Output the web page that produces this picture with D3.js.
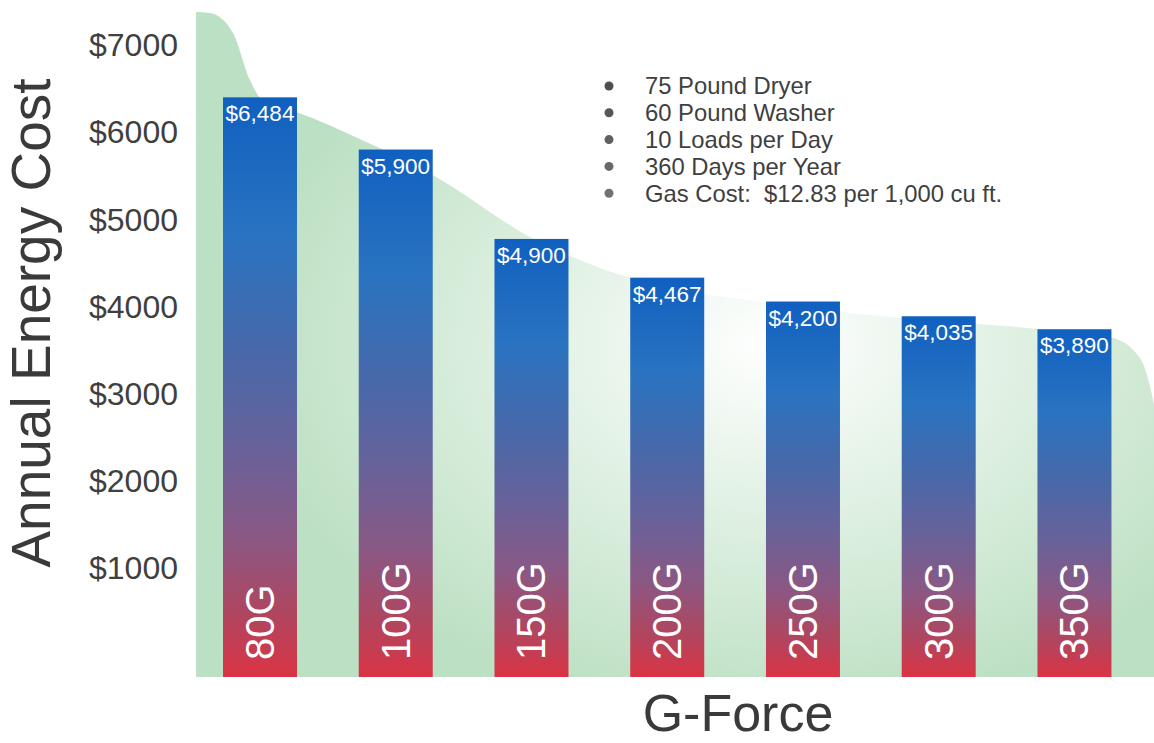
<!DOCTYPE html>
<html>
<head>
<meta charset="utf-8">
<script src="https://cdn.jsdelivr.net/npm/d3@7"></script>
<style>
  html, body { margin: 0; padding: 0; background: #fff; }
  svg { display: block; font-family: "Liberation Sans", Arial, sans-serif; }
</style>
</head>
<body>
<svg id="chart" width="1154" height="743"></svg>
<script>
// ---- data ----
const categories = ["80G", "100G", "150G", "200G", "250G", "300G", "350G"];
const costs = [6484, 5900, 4900, 4467, 4200, 4035, 3890];
const yTicks = [1000, 2000, 3000, 4000, 5000, 6000, 7000];
const notes = ["75 Pound Dryer", "60 Pound Washer", "10 Loads per Day", "360 Days per Year", "Gas Cost:  $12.83 per 1,000 cu ft."];
// decorative backdrop silhouette: position in category-index units, value in dollars
const backdropIndex = [-0.471, -0.368, -0.199, -0.074, 0.015, 0.125, 0.265, 0.751, 1.297, 1.989, 2.704, 3.742, 4.715, 5.731, 6.262, 6.483, 6.571, 6.586];
const backdropValue = [7438, 7427, 7204, 6678, 6454, 6387, 6320, 6007, 5593, 4922, 4474, 4183, 4016, 3893, 3803, 3568, 3154, 3043];

const svg = d3.select("#chart");
const defs = svg.append("defs");

// scales
const x = d3.scaleBand().domain(categories).range([195.85, 1138.6]).paddingInner(0.4549).paddingOuter(0.2);
const y = d3.scaleLinear().domain([0, 7000]).range([677, 51.2]);
const yAxisScale = d3.scaleLinear().domain([0, 7000]).range([655.6, 45.5]);
const c0 = x(categories[0]) + x.bandwidth() / 2;
const c6 = x(categories[6]) + x.bandwidth() / 2;
const xi = d3.scaleLinear().domain([0, 6]).range([c0, c6]);

// gradients
const rg = defs.append("radialGradient").attr("id", "bgGrad")
  .attr("cx", 0.6).attr("cy", 0.5).attr("r", 0.56);
rg.append("stop").attr("offset", "0%").attr("stop-color", "#ffffff");
rg.append("stop").attr("offset", "30%").attr("stop-color", "#eaf5ec");
rg.append("stop").attr("offset", "100%").attr("stop-color", "#bce0c3");

const bg = defs.append("linearGradient").attr("id", "barGrad")
  .attr("x1", 0).attr("y1", 0).attr("x2", 0).attr("y2", 1);
[["0%", "#1060c0"], ["24%", "#2a73c1"], ["42%", "#4569ab"], ["60%", "#67629a"], ["76%", "#8a5884"], ["89%", "#af4660"], ["100%", "#da3444"]]
  .forEach(([o, c]) => bg.append("stop").attr("offset", o).attr("stop-color", c));

const dg = defs.append("linearGradient").attr("id", "dotGrad")
  .attr("gradientUnits", "userSpaceOnUse").attr("x1", 0).attr("y1", 80).attr("x2", 0).attr("y2", 200);
dg.append("stop").attr("offset", "0%").attr("stop-color", "#4c4c4c");
dg.append("stop").attr("offset", "100%").attr("stop-color", "#747474");

// backdrop area
const backdrop = backdropIndex.map((d, i) => ({ i: d, v: backdropValue[i] }));
const area = d3.area()
  .x(d => xi(d.i))
  .y0(y(0))
  .y1(d => y(d.v))
  .curve(d3.curveMonotoneX);
svg.append("path").datum(backdrop).attr("d", area).attr("fill", "url(#bgGrad)");

// y axis labels
const yAxis = d3.axisLeft(yAxisScale).tickValues(yTicks).tickSize(0).tickPadding(0)
  .tickFormat(d => "$" + d);
const gy = svg.append("g").attr("transform", "translate(178,0)").call(yAxis);
gy.select(".domain").remove();
gy.selectAll("text").attr("font-size", 32).attr("fill", "#3f3f3f")
  .attr("font-family", "'Liberation Sans', Arial, sans-serif");

// bars
const bars = svg.append("g").selectAll("g").data(categories).join("g");
bars.append("rect")
  .attr("x", d => x(d))
  .attr("width", x.bandwidth())
  .attr("y", (d, i) => y(costs[i]))
  .attr("height", (d, i) => y(0) - y(costs[i]))
  .attr("fill", "url(#barGrad)");

bars.append("text")
  .attr("x", d => x(d) + x.bandwidth() / 2)
  .attr("y", (d, i) => y(costs[i]) + 24)
  .attr("text-anchor", "middle")
  .attr("font-size", 22.5)
  .attr("fill", "#ffffff")
  .text((d, i) => "$" + d3.format(",")(costs[i]));

bars.append("text")
  .attr("transform", d => `translate(${x(d) + x.bandwidth() / 2 + 14},660) rotate(-90)`)
  .attr("text-anchor", "start")
  .attr("font-size", 40)
  .attr("fill", "#ffffff")
  .text(d => d);

// notes
const notesG = svg.append("g");
notes.forEach((t, i) => {
  const cy = 86 + i * 26.8;
  notesG.append("circle").attr("cx", 609).attr("cy", cy).attr("r", 4.5).attr("fill", "url(#dotGrad)");
  notesG.append("text").attr("x", 645).attr("y", cy + 8.3)
    .attr("font-size", 23.8).attr("fill", "#3f3f3f")
    .style("white-space", "pre")
    .text(t);
});

// titles
svg.append("text")
  .attr("transform", "translate(50,323) rotate(-90)")
  .attr("text-anchor", "middle")
  .attr("font-size", 55)
  .attr("fill", "#3a3a3a")
  .text("Annual Energy Cost");

svg.append("text")
  .attr("x", 738).attr("y", 731)
  .attr("text-anchor", "middle")
  .attr("font-size", 52)
  .attr("fill", "#3a3a3a")
  .text("G-Force");
</script>
</body>
</html>
